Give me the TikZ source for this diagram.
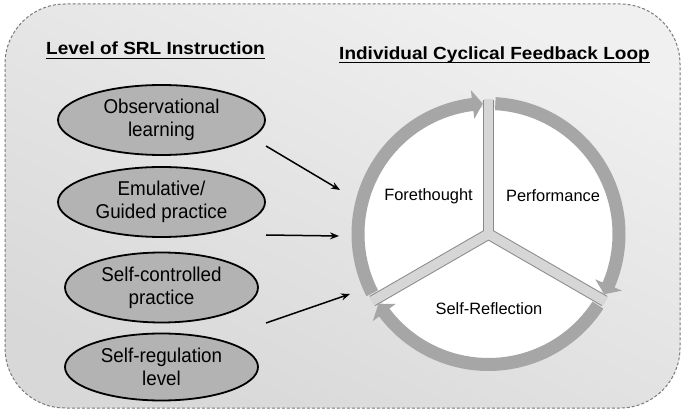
\documentclass[tikz,border=0pt]{standalone}
\usepackage{fontspec}
\setmainfont{Liberation Sans}
\newfontfamily\ellfont[FakeStretch=0.94]{Liberation Sans}
\newfontfamily\titlefont[FakeStretch=1.08]{Liberation Sans}
\usetikzlibrary{shapes.geometric,arrows.meta}
\definecolor{ringgray}{HTML}{A6A6A6}
\definecolor{ellfill}{HTML}{B3B3B3}
\definecolor{spokefill}{HTML}{D6D6D6}
\definecolor{spokeedge}{HTML}{8A8A8A}
\definecolor{bgtop}{HTML}{F0F0F0}
\definecolor{bgbot}{HTML}{D8D8D8}
\definecolor{borderc}{HTML}{7A7A7A}
\begin{document}
\begin{tikzpicture}[x=1pt,y=-1pt,
  srl/.style={ellipse, draw=black, line width=1.8pt, fill=ellfill, inner sep=0pt,
    align=center, font=\ellfont\fontsize{20}{23}\selectfont},
  phase/.style={font=\fontsize{16.4}{20}\selectfont, inner sep=0pt},
  title/.style={font=\titlefont\bfseries\fontsize{17.6}{22}\selectfont, inner sep=0pt, anchor=base},
  uline/.style={line width=1.6pt},
  link/.style={-{Stealth[length=9pt,width=7pt]}, line width=1.5pt},
  ringarc/.style={fill=ringgray, draw=none},
  frame/.style={draw=borderc, line width=1pt, dash pattern=on 3pt off 2pt,
    rounded corners=60pt, top color=bgtop, bottom color=bgbot, shading angle=-25}]
\useasboundingbox (0,0) rectangle (685,411);
\fill[white] (0,0) rectangle (685,411);
\path[frame] (5,4) rectangle (680,408);

% titles
\node[title] (t1) at (155.5,55) {Level of SRL Instruction};
\draw[uline] ([yshift=-3.5pt]t1.base west) -- ([yshift=-3.5pt]t1.base east);
\node[title] (t2) at (494.5,59.5) {Individual Cyclical Feedback Loop};
\draw[uline] ([yshift=-3pt]t2.base west) -- ([yshift=-3pt]t2.base east);

% ellipses
\node[srl, minimum width=207pt, minimum height=70pt] (e1) at (161.5,120) {Observational\\learning};
\node[srl, minimum width=207pt, minimum height=70pt] (e2) at (161.5,202) {Emulative/\\Guided practice};
\node[srl, minimum width=193pt, minimum height=70pt] (e3) at (161.5,287.5) {Self-controlled\\practice};
\node[srl, minimum width=193pt, minimum height=67pt] (e4) at (161.5,367) {Self-regulation\\level};

% cycle
\coordinate (C) at (488.5,234);
\begin{scope}[shift={(C)}]
  \fill[white] (0,0) circle[radius=126];
  \foreach \a in {270,30,150} \draw[spokeedge, line width=11.5pt] (0,0) -- (\a:134);
  \foreach \a in {270,30,150} \draw[spokefill, line width=9.5pt] (0,0) -- (\a:135);
  % ring arcs with arrowheads
  \path[ringarc] (153:137) arc[start angle=153, end angle=263, radius=137]
     -- (263:145) -- (267.5:130.5) -- (263:116) -- (263:124)
     arc[start angle=263, end angle=153, radius=124] -- cycle;
  \path[ringarc] (273:137) arc[start angle=273, end angle=383, radius=137]
     -- (383:145) -- (387.5:130.5) -- (383:116) -- (383:124)
     arc[start angle=383, end angle=273, radius=124] -- cycle;
  \path[ringarc] (33:137) arc[start angle=33, end angle=143, radius=137]
     -- (143:145) -- (147.5:130.5) -- (143:116) -- (143:124)
     arc[start angle=143, end angle=33, radius=124] -- cycle;
\end{scope}
\node[phase] (p1) at (428.5,196) {Forethought};
\node[phase] (p2) at (553,196) {Performance};
\node[phase] (p3) at (489,309) {Self-Reflection};

% connectors
\coordinate (a1s) at (266,146); \coordinate (a1e) at (340,190);
\coordinate (a2s) at (266,235); \coordinate (a2e) at (339,236);
\coordinate (a3s) at (266,323); \coordinate (a3e) at (350,294);
\draw[link] (a1s) -- (a1e);
\draw[link] (a2s) -- (a2e);
\draw[link] (a3s) -- (a3e);
\end{tikzpicture}
\end{document}
